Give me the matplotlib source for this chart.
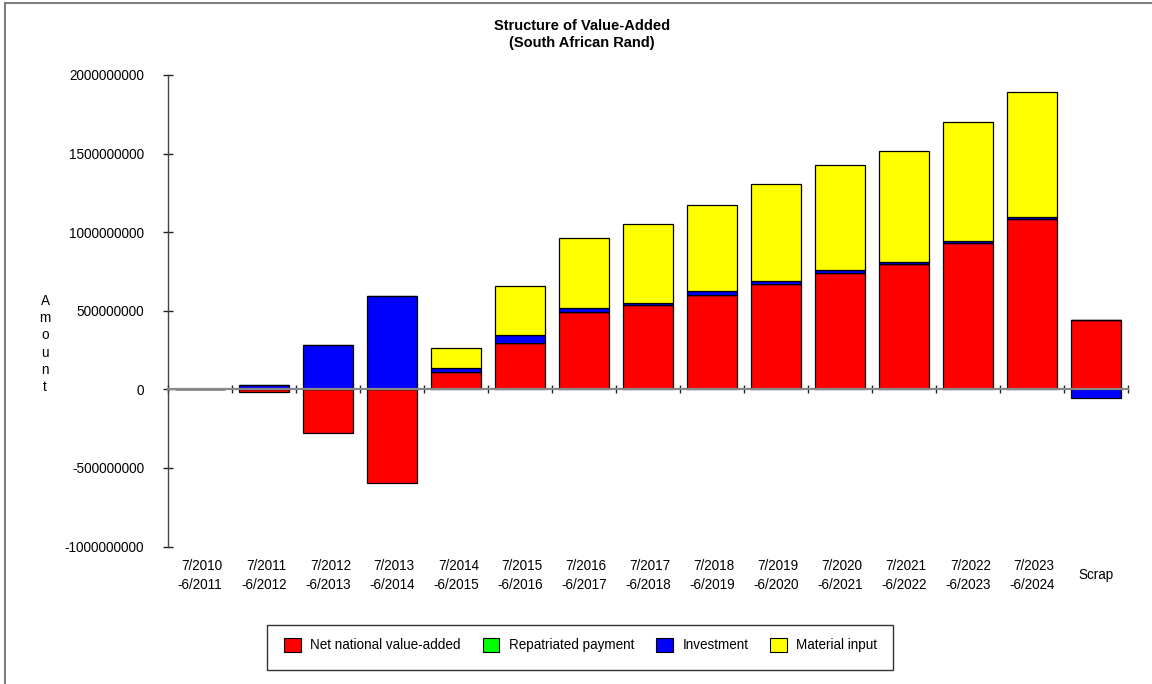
import numpy as np
import matplotlib
matplotlib.use('Agg')
import matplotlib.pyplot as plt
from matplotlib.patches import Patch, Rectangle
from matplotlib.lines import Line2D
import matplotlib.transforms as mtransforms

plt.rcParams['font.family'] = ['Liberation Sans', 'DejaVu Sans']

# 数据：各时期的增加值结构（南非兰特）
periods = ['7/2010\n-6/2011', '7/2011\n-6/2012', '7/2012\n-6/2013', '7/2013\n-6/2014',
           '7/2014\n-6/2015', '7/2015\n-6/2016', '7/2016\n-6/2017', '7/2017\n-6/2018',
           '7/2018\n-6/2019', '7/2019\n-6/2020', '7/2020\n-6/2021', '7/2021\n-6/2022',
           '7/2022\n-6/2023', '7/2023\n-6/2024', 'Scrap']
net_value_added = [0, -18e6, -280e6, -594e6, 110e6, 297e6, 489e6, 535e6, 603e6,
                   673e6, 743e6, 796e6, 934e6, 1085e6, 443e6]
repatriated = [0] * 15
investment = [0, 25e6, 280e6, 594e6, 28e6, 51e6, 31e6, 12e6, 20e6,
              15e6, 18e6, 12e6, 12e6, 10e6, -53e6]
material_input = [0, 0, 0, 0, 123e6, 308e6, 444e6, 504e6, 551e6,
                  618e6, 668e6, 710e6, 755e6, 799e6, 0]
series_names = ['Net national value-added', 'Repatriated payment', 'Investment', 'Material input']
series_colors = ['#ff0000', '#00ff00', '#0000ff', '#ffff00']
yticks = [-1000000000, -500000000, 0, 500000000, 1000000000, 1500000000, 2000000000]

W, H = 1152, 684
fs = 9.75
fig = plt.figure(figsize=(W / 100, H / 100), dpi=100)
ax = fig.add_axes([168 / W, 1 - 546.5 / H, 960 / W, (546.5 - 75) / H])

x = np.arange(len(periods))
pos_base = np.zeros(len(periods))
neg_base = np.zeros(len(periods))
for vals, color in zip([net_value_added, repatriated, investment, material_input], series_colors):
    vals = np.array(vals, dtype=float)
    bottoms = np.where(vals >= 0, pos_base, neg_base)
    ax.bar(x, vals, width=0.78, bottom=bottoms, color=color,
           edgecolor='black', linewidth=0.9, zorder=1)
    pos_base += np.clip(vals, 0, None)
    neg_base += np.clip(vals, None, 0)

ax.set_xlim(-0.5, len(periods) - 0.5)
ax.set_ylim(-1.0e9, 2.0e9)

# 坐标轴样式
ax.spines['top'].set_visible(False)
ax.spines['right'].set_visible(False)
ax.spines['bottom'].set_position(('data', 0))
ax.spines['bottom'].set_color('#888888')
ax.spines['bottom'].set_linewidth(1.6)
ax.spines['left'].set_color('#444444')
ax.spines['left'].set_linewidth(1.0)

ax.set_yticks(yticks)
ax.set_yticklabels([str(v) for v in yticks], fontsize=fs)
ax.tick_params(axis='y', direction='inout', length=6.5, width=1, color='#222222', pad=14)

ax.set_xticks(np.arange(len(periods) + 1) - 0.5)
ax.set_xticklabels([])
ax.tick_params(axis='x', direction='inout', length=6, width=1, color='#222222')

trans = mtransforms.blended_transform_factory(ax.transData, ax.transAxes)
for i, lab in enumerate(periods):
    ax.text(i, -(575.5 - 546.5) / (546.5 - 75), lab, transform=trans, ha='center', va='center',
            multialignment='right', fontsize=fs, linespacing=1.37)

# 纵轴标签（竖排字母）
fig.text(45 / W, 1 - 344 / H, 'A\nm\no\nu\nn\nt', ha='center', va='center',
         fontsize=fs, linespacing=1.3)

# 标题
fig.text(582 / W, 1 - 25.5 / H, 'Structure of Value-Added', ha='center', va='center',
         fontsize=10.5, fontweight='bold')
fig.text(582 / W, 1 - 43.5 / H, '(South African Rand)', ha='center', va='center',
         fontsize=10.5, fontweight='bold')

# 图例
handles = [Patch(facecolor=c, edgecolor='black', linewidth=0.8) for c in series_colors]
fig.legend(handles, series_names, loc='center left', bbox_to_anchor=(284 / W, 1 - 645 / H),
           ncol=4, frameon=False, fontsize=fs, handlelength=1.25, handleheight=1.25,
           handletextpad=0.7, columnspacing=1.6, borderpad=0, borderaxespad=0)
fig.patches.append(Rectangle((267 / W, 1 - 670 / H), (893 - 267) / W, 45 / H,
                             transform=fig.transFigure, fill=False,
                             edgecolor='#333333', linewidth=1))

# 外框
fig.lines.append(Line2D([5 / W, 5 / W], [0, 1 - 3 / H], transform=fig.transFigure,
                        color='#808080', linewidth=1.5))
fig.lines.append(Line2D([5 / W, 1], [1 - 3 / H, 1 - 3 / H], transform=fig.transFigure,
                        color='#808080', linewidth=1.5))

plt.savefig('out.png', dpi=100, facecolor='white')
